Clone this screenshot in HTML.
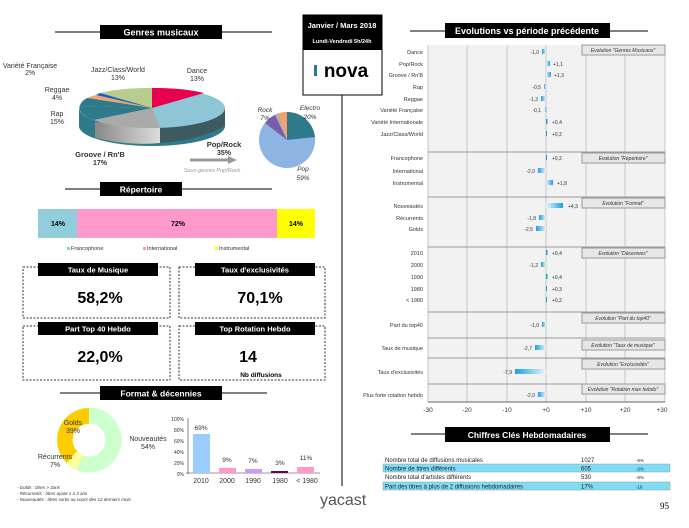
<!DOCTYPE html>
<html><head><meta charset="utf-8"><style>
body{margin:0;background:#fff;}
svg{display:block;font-family:"Liberation Sans",sans-serif;}
</style></head><body>
<svg width="689" height="528" viewBox="0 0 689 528" xmlns="http://www.w3.org/2000/svg">
<defs>
<linearGradient id="bg" x1="0" x2="1"><stop offset="0" stop-color="#1aa0e0"/><stop offset="1" stop-color="#e8f6fd"/></linearGradient>
<linearGradient id="bgr" x1="0" x2="1"><stop offset="0" stop-color="#e8f6fd"/><stop offset="1" stop-color="#1aa0e0"/></linearGradient>
<linearGradient id="gs" x1="0" x2="1"><stop offset="0" stop-color="#888"/><stop offset="1" stop-color="#ddd"/></linearGradient>
</defs>
<!-- Genres header -->
<line x1="55" y1="32" x2="272" y2="32" stroke="#000"/>
<rect x="100" y="25" width="122" height="14" fill="#000"/>
<text x="161" y="35.5" fill="#fff" font-size="9" font-weight="bold" text-anchor="middle">Genres musicaux</text>
<!-- 3D pie -->
<path d="M79 108 L79 126 A73 20 0 0 0 225 126 L225 108 Z" fill="#2e7a8a"/>
<path d="M95 122 L95 138 Q130 146 160 143 L160 127 Z" fill="url(#gs)"/>
<path d="M160 127 L160 143 Q200 140 225 126 L225 108 Z" fill="#3d5a60"/>
<ellipse cx="152" cy="108" rx="73" ry="20" fill="#8fc6d6"/>
<path d="M152 108 L152 88 A73 20 0 0 1 204 93 Z" fill="#e8004f"/>
<path d="M152 108 L100 93 A73 20 0 0 1 152 88 Z" fill="#b8cc8e"/>
<path d="M152 108 L96 95 A73 20 0 0 1 100 93 Z" fill="#1560c0"/>
<path d="M152 108 L87 98 A73 20 0 0 1 96 95 Z" fill="#f2a270"/>
<path d="M152 108 L80 106 A73 20 0 0 1 87 98 Z" fill="#2e7a8a"/>
<path d="M152 108 L94 120 A73 20 0 0 1 80 106 Z" fill="#2e7a8a"/>
<path d="M152 108 L160 128 A73 20 0 0 1 94 120 Z" fill="#aaa"/>
<g font-size="7" fill="#333" text-anchor="middle">
<text x="30" y="68">Variété Française</text><text x="30" y="75">2%</text>
<text x="118" y="72">Jazz/Class/World</text><text x="118" y="80">13%</text>
<text x="197" y="73">Dance</text><text x="197" y="81">13%</text>
<text x="57" y="92">Reggae</text><text x="57" y="100">4%</text>
<text x="57" y="116">Rap</text><text x="57" y="124">15%</text>
<text x="100" y="157" font-weight="bold" font-size="7.5">Groove / Rn'B</text><text x="100" y="165" font-weight="bold">17%</text>
<text x="224" y="147" font-weight="bold" font-size="7.5">Pop/Rock</text><text x="224" y="155" font-weight="bold">35%</text>
</g>
<path d="M190 160 L230 160" stroke="#999" stroke-width="3"/><path d="M228 156 L237 160 L228 164Z" fill="#999"/>
<text x="212" y="172" font-size="5.5" fill="#999" font-style="italic" text-anchor="middle">Sous-genres Pop/Rock</text>
<!-- small pie -->
<circle cx="287" cy="140" r="28" fill="#8eb4e3"/>
<path d="M287 140 L287 112 A28 28 0 0 1 315 137 Z" fill="#2e7a8a"/>
<path d="M287 140 L287 112 A28 28 0 0 0 277 114 Z" fill="#f2a270"/>
<path d="M287 140 L275 115 A28 28 0 0 0 265 123 Z" fill="#7b5ea7"/>
<g font-size="6.5" font-style="italic" fill="#333" text-anchor="middle">
<text x="265" y="112">Rock</text><text x="265" y="120">7%</text>
<text x="310" y="110">Electro</text><text x="310" y="119">20%</text>
<text x="303" y="171">Pop</text><text x="303" y="180">59%</text></g>
<!-- Repertoire -->
<line x1="65" y1="189" x2="272" y2="189" stroke="#000"/>
<rect x="100" y="182" width="82" height="14" fill="#000"/>
<text x="141" y="192.5" fill="#fff" font-size="8.5" font-weight="bold" text-anchor="middle">Répertoire</text>
<rect x="38" y="209" width="39" height="29" fill="#92cddc"/>
<rect x="77" y="209" width="200" height="29" fill="#ff99cc"/>
<rect x="277" y="209" width="38" height="29" fill="#ffff00"/>
<g font-size="7" font-weight="bold" text-anchor="middle"><text x="58" y="226">14%</text><text x="178" y="226">72%</text><text x="296" y="226">14%</text></g>
<g font-size="5.5" fill="#333"><rect x="67" y="247" width="3" height="3" fill="#92cddc"/><text x="71" y="250">Francophone</text>
<rect x="143" y="247" width="3" height="3" fill="#ff99cc"/><text x="147" y="250">International</text>
<rect x="215" y="247" width="3" height="3" fill="#ffff00"/><text x="219" y="250">Instrumental</text></g>
<!-- KPIs -->
<g fill="none" stroke="#333" stroke-dasharray="2,1.5">
<rect x="23" y="267" width="147" height="51"/><rect x="179" y="267" width="146" height="51"/>
<rect x="23" y="326" width="147" height="54"/><rect x="179" y="326" width="146" height="54"/></g>
<g fill="#000"><rect x="38" y="263" width="120" height="13"/><rect x="195" y="263" width="120" height="13"/>
<rect x="38" y="322" width="120" height="13"/><rect x="195" y="322" width="120" height="13"/></g>
<g fill="#fff" font-size="7.5" font-weight="bold" text-anchor="middle">
<text x="98" y="272.5">Taux de Musique</text><text x="255" y="272.5">Taux  d'exclusivités</text>
<text x="98" y="331.5">Part Top 40 Hebdo</text><text x="255" y="331.5">Top Rotation Hebdo</text></g>
<g font-size="16" font-weight="bold" text-anchor="middle">
<text x="100" y="303">58,2%</text><text x="260" y="303">70,1%</text>
<text x="100" y="362">22,0%</text><text x="248" y="362">14</text></g>
<text x="261" y="377" font-size="6.5" font-weight="bold" text-anchor="middle">Nb diffusions</text>
<!-- Format -->
<line x1="60" y1="393" x2="267" y2="393" stroke="#000"/>
<rect x="100" y="386" width="122" height="14" fill="#000"/>
<text x="161" y="396.5" fill="#fff" font-size="8.5" font-weight="bold" text-anchor="middle">Format &amp; décennies</text>
<circle cx="89" cy="440" r="24.5" fill="none" stroke="#ccffcc" stroke-width="16"/>
<path d="M89 408 A32 32 0 0 0 67 463 L77 451 A16 16 0 0 1 89 424 Z" fill="#ffcc00"/>
<path d="M67 463 A32 32 0 0 0 77 470 L83 455 A16 16 0 0 1 77 451 Z" fill="#ffff99"/>
<g font-size="7" fill="#333" text-anchor="middle"><text x="73" y="425">Golds</text><text x="73" y="433">39%</text>
<text x="55" y="459">Récurrents</text><text x="55" y="467">7%</text>
<text x="148" y="441">Nouveautés</text><text x="148" y="449">54%</text></g>
<g font-size="5" fill="#333" text-anchor="end"><text x="184" y="421">100%</text><text x="184" y="432">80%</text><text x="184" y="443">60%</text><text x="184" y="454">40%</text><text x="184" y="465">20%</text><text x="184" y="476">0%</text></g>
<line x1="188" y1="418" x2="188" y2="474" stroke="#333" stroke-width="0.6"/>
<line x1="186" y1="473" x2="320" y2="473" stroke="#333" stroke-width="0.6"/>
<rect x="193" y="434" width="17" height="39" fill="#99ccff"/><rect x="219" y="468" width="17" height="5" fill="#ff99cc"/>
<rect x="245" y="469" width="17" height="4" fill="#cc99ff"/><rect x="271" y="471" width="17" height="2" fill="#660066"/>
<rect x="297" y="467" width="17" height="6" fill="#ff99cc"/>
<g font-size="6.5" fill="#333" text-anchor="middle"><text x="201" y="430">69%</text><text x="227" y="462">9%</text><text x="253" y="463">7%</text><text x="280" y="465">3%</text><text x="306" y="460">11%</text>
<g font-size="7"><text x="201" y="483">2010</text><text x="227" y="483">2000</text><text x="253" y="483">1990</text><text x="280" y="483">1980</text><text x="307" y="483">&lt; 1980</text></g></g>
<g font-size="4.5" font-style="italic" fill="#333"><text x="17" y="489">- Golds : titres &gt; 3ans</text><text x="17" y="495">- Récurrents : titres ayant 1 à 3 ans</text><text x="17" y="501">- Nouveautés : titres sortis au cours des 12 derniers mois</text></g>
<!-- Date box -->
<rect x="303" y="15" width="79" height="80" fill="#fff" stroke="#000"/>
<rect x="303" y="15" width="79" height="35" fill="#000"/>
<text x="342" y="28" fill="#fff" font-size="7.5" font-weight="bold" text-anchor="middle">Janvier / Mars 2018</text>
<text x="342" y="43" fill="#fff" font-size="5.5" font-weight="bold" text-anchor="middle">Lundi-Vendredi 5h/24h</text>
<rect x="314" y="65" width="3" height="11" fill="#2e7a8a"/>
<text x="346" y="77" font-size="19" font-weight="bold" text-anchor="middle">nova</text>
<line x1="342" y1="95" x2="342" y2="486" stroke="#000"/>
<!-- yacast -->
<text x="320" y="505" font-size="16" fill="#555">yacast</text>
<!-- Evolutions -->
<line x1="410" y1="31" x2="648" y2="31" stroke="#000"/>
<rect x="445" y="23" width="165" height="15" fill="#000"/>
<text x="527" y="34" fill="#fff" font-size="9" font-weight="bold" text-anchor="middle">Evolutions vs période précédente</text>
<rect x="428" y="45" width="237" height="357" fill="#f2f2f2"/>
<g stroke="#bbb" stroke-width="0.8"><line x1="467" y1="45" x2="467" y2="402"/><line x1="507" y1="45" x2="507" y2="402"/><line x1="546" y1="45" x2="546" y2="402"/><line x1="586" y1="45" x2="586" y2="402"/><line x1="625" y1="45" x2="625" y2="402"/><line x1="665" y1="45" x2="665" y2="402"/><line x1="428" y1="45" x2="428" y2="402"/></g>
<g stroke="#999"><line x1="428" y1="152" x2="665" y2="152"/><line x1="428" y1="197" x2="665" y2="197"/><line x1="428" y1="247" x2="665" y2="247"/><line x1="428" y1="312" x2="665" y2="312"/><line x1="428" y1="338" x2="665" y2="338"/><line x1="428" y1="358" x2="665" y2="358"/><line x1="428" y1="384" x2="665" y2="384"/></g>
<line x1="428" y1="402" x2="665" y2="402" stroke="#666"/>
<g font-size="5.5" fill="#333" text-anchor="end">
<text x="423" y="54">Dance</text><text x="423" y="66">Pop/Rock</text><text x="423" y="77">Groove / Rn'B</text><text x="423" y="89">Rap</text><text x="423" y="101">Reggae</text><text x="423" y="112">Variété Française</text><text x="423" y="124">Variété Internationale</text><text x="423" y="136">Jazz/Class/World</text>
<text x="423" y="160">Francophone</text><text x="423" y="173">International</text><text x="423" y="185">Instrumental</text>
<text x="423" y="208">Nouveautés</text><text x="423" y="220">Récurrents</text><text x="423" y="231">Golds</text>
<text x="423" y="255">2010</text><text x="423" y="267">2000</text><text x="423" y="279">1990</text><text x="423" y="291">1980</text><text x="423" y="302">&lt; 1980</text>
<text x="423" y="327">Part du top40</text><text x="423" y="350">Taux de musique</text><text x="423" y="374">Taux d'exclusivités</text><text x="423" y="397">Plus forte rotation hebdo</text></g>
<g>
<rect x="542" y="49" width="4" height="5" fill="url(#bg)"/><rect x="546" y="61" width="4" height="5" fill="url(#bgr)"/><rect x="546" y="72" width="5" height="5" fill="url(#bgr)"/>
<rect x="544" y="84" width="2" height="5" fill="url(#bg)"/><rect x="541" y="96" width="5" height="5" fill="url(#bg)"/><rect x="545.5" y="107" width="0.8" height="5" fill="#1aa0e0"/>
<rect x="546" y="119" width="1.5" height="5" fill="#1aa0e0"/><rect x="546" y="131" width="1" height="5" fill="#1aa0e0"/>
<rect x="546" y="155" width="1" height="5" fill="#1aa0e0"/><rect x="538" y="168" width="8" height="5" fill="url(#bg)"/><rect x="546" y="180" width="7" height="5" fill="url(#bgr)"/>
<rect x="546" y="203" width="17" height="5" fill="url(#bgr)"/><rect x="539" y="215" width="7" height="5" fill="url(#bg)"/><rect x="536" y="226" width="10" height="5" fill="url(#bg)"/>
<rect x="546" y="250" width="1.5" height="5" fill="#1aa0e0"/><rect x="541" y="262" width="5" height="5" fill="url(#bg)"/><rect x="546" y="274" width="1.5" height="5" fill="#1aa0e0"/><rect x="546" y="286" width="1" height="5" fill="#1aa0e0"/><rect x="546" y="297" width="1" height="5" fill="#1aa0e0"/>
<rect x="542" y="322" width="4" height="5" fill="url(#bg)"/><rect x="535" y="345" width="11" height="5" fill="url(#bg)"/><rect x="515" y="369" width="31" height="5" fill="url(#bg)"/><rect x="538" y="392" width="8" height="5" fill="url(#bg)"/></g>
<g font-size="5" fill="#333">
<text x="539" y="54" text-anchor="end">-1,0</text><text x="553" y="66">+1,1</text><text x="554" y="77">+1,3</text><text x="541" y="89" text-anchor="end">-0,5</text><text x="538" y="101" text-anchor="end">-1,3</text><text x="541" y="112" text-anchor="end">-0,1</text><text x="552" y="124">+0,4</text><text x="552" y="136">+0,2</text>
<text x="552" y="160">+0,2</text><text x="535" y="173" text-anchor="end">-2,0</text><text x="557" y="185">+1,8</text>
<text x="568" y="208">+4,3</text><text x="536" y="220" text-anchor="end">-1,8</text><text x="533" y="231" text-anchor="end">-2,5</text>
<text x="552" y="255">+0,4</text><text x="538" y="267" text-anchor="end">-1,2</text><text x="552" y="279">+0,4</text><text x="552" y="291">+0,3</text><text x="552" y="302">+0,2</text>
<text x="539" y="327" text-anchor="end">-1,0</text><text x="532" y="350" text-anchor="end">-2,7</text><text x="512" y="374" text-anchor="end">-7,9</text><text x="535" y="397" text-anchor="end">-2,0</text></g>
<g fill="#e6e6e6" stroke="#999"><rect x="582" y="45" width="83" height="10"/><rect x="582" y="153" width="83" height="10"/><rect x="582" y="198" width="83" height="10"/><rect x="582" y="248" width="83" height="10"/><rect x="582" y="313" width="83" height="10"/><rect x="582" y="340" width="83" height="10"/><rect x="582" y="359" width="83" height="10"/><rect x="582" y="384" width="83" height="10"/></g>
<g font-size="5" font-style="italic" fill="#333" text-anchor="middle">
<text x="623" y="52">Evolution "Genres Musicaux"</text><text x="623" y="160">Evolution "Répertoire"</text><text x="623" y="205">Evolution "Format"</text><text x="623" y="255">Evolution "Décennies"</text><text x="623" y="320">Evolution "Part du top40"</text><text x="623" y="347">Evolution "Taux de musique"</text><text x="623" y="366">Evolution "Exclusivités"</text><text x="623" y="391">Evolution "Rotation max hebdo"</text></g>
<g font-size="6.5" fill="#333" text-anchor="middle"><text x="428" y="412">-30</text><text x="467" y="412">-20</text><text x="507" y="412">-10</text><text x="546" y="412">+0</text><text x="586" y="412">+10</text><text x="625" y="412">+20</text><text x="662" y="412">+30</text></g>
<!-- Chiffres -->
<line x1="411" y1="434" x2="648" y2="434" stroke="#000"/>
<rect x="445" y="427" width="165" height="15" fill="#000"/>
<text x="527" y="438" fill="#fff" font-size="8.5" font-weight="bold" text-anchor="middle">Chiffres Clés Hebdomadaires</text>
<rect x="383" y="464" width="287" height="8" fill="#7fdcf7" stroke="#999" stroke-width="0.5"/>
<rect x="383" y="482" width="287" height="8" fill="#7fdcf7" stroke="#999" stroke-width="0.5"/>
<g font-size="6" fill="#222"><text x="385" y="462">Nombre total de diffusions musicales</text><text x="385" y="470.5">Nombre de titres différents</text><text x="385" y="479">Nombre total d'artistes différents</text><text x="385" y="488.5">Part des titres à plus de 2 diffusions hebdomadaires</text>
<text x="581" y="462">1027</text><text x="581" y="470.5">605</text><text x="581" y="479">530</text><text x="581" y="488.5">17%</text>
<g font-size="4.5"><text x="636" y="462">-5%</text><text x="636" y="470.5">-2%</text><text x="636" y="479">-5%</text><text x="636" y="488.5">-18</text></g></g>
<text x="660" y="509" font-size="9" font-family="Liberation Serif,serif">95</text>
</svg>
</body></html>
